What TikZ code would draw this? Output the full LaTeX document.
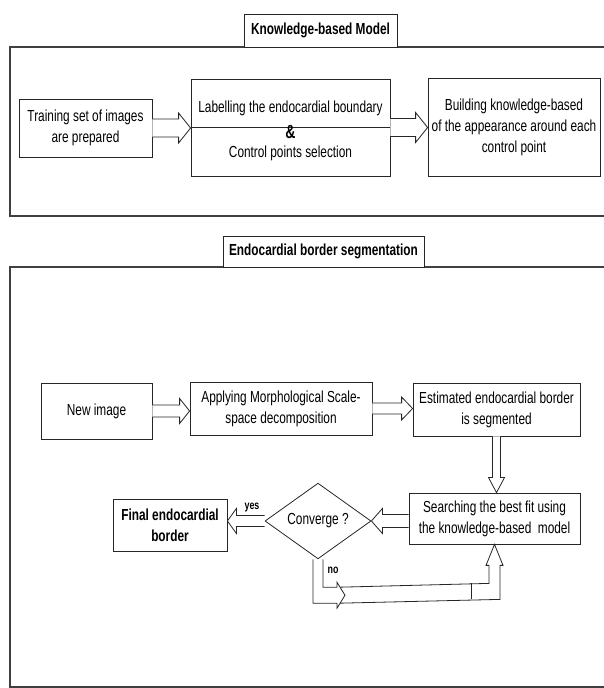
\documentclass[tikz,border=0pt]{standalone}
\usepackage{fontspec}
\setmainfont{Liberation Sans}[FakeStretch=0.74]
\usetikzlibrary{shapes.geometric,calc,positioning}

\newcommand\flowarrow[5]{%
  \draw[hollow] let \p1=(#4), \p2=(#5), \n1={veclen(\x2-\x1,\y2-\y1)}, \n2={atan2(\y2-\y1,\x2-\x1)} in
    [shift={(\p1)}, rotate=\n2] (0,#1) -- (\n1-#3,#1) -- (\n1-#3,#2) -- (\n1,0) -- (\n1-#3,-#2) -- (\n1-#3,-#1) -- (0,-#1);
}

\begin{document}
\begin{tikzpicture}[x=1pt, y=1pt,
    box/.style={draw=black!85, line width=0.8pt, fill=white, inner sep=0, align=center, font=\fontsize{16}{21}\selectfont},
    titlebox/.style={box, font=\bfseries\fontsize{16}{21}\selectfont},
    panel/.style={draw=black!75, line width=1.1pt},
    hollow/.style={draw=black!85, fill=white, line width=0.8pt},
    tag/.style={font=\bfseries\fontsize{12}{14}\selectfont, inner sep=0}]
    \useasboundingbox (0,0) rectangle (604,688);
    \clip (0,0) rectangle (604,688);

    \draw[panel] (10,641) rectangle (615,472);
    \node[titlebox, minimum width=153, minimum height=33] (kbtitle) at (320.5,657.5) {Knowledge-based Model};
    \node[box, minimum width=133, minimum height=58] (train) at (85.5,560) {Training set of images\\are prepared};
    \node[box, minimum width=199, minimum height=97] (label) at (290.5,560.5) {};
    \draw[black!85, line width=0.8pt] (label.west) -- (label.east);
    \node[font=\fontsize{16}{21}\selectfont] (label1) at ([yshift=19.5]label.center) {Labelling the endocardial boundary};
    \node[font=\bfseries\fontsize{19}{21}\selectfont, inner sep=0] (amp) at ([yshift=-5]label.center) {\&};
    \node[font=\fontsize{16}{21}\selectfont] (label2) at ([yshift=-25.5]label.center) {Control points selection};
    \node[box, minimum width=172, minimum height=98] (build) at (514,561) {Building knowledge-based\\of the appearance around each\\control point};
    \flowarrow{9}{15}{12}{train.east}{label.west |- train.east}
    \flowarrow{9}{15}{12}{label.east}{build.west |- label.east}

    \draw[panel] (10,421) rectangle (615,1);
    \node[titlebox, minimum width=201, minimum height=31] (estitle) at (323.5,436.5) {Endocardial border segmentation};
    \node[box, minimum width=111, minimum height=56] (newimg) at (96.5,277) {New image};
    \node[box, minimum width=182, minimum height=53] (apply) at (281,279.5) {Applying Morphological Scale-\\space decomposition};
    \node[box, minimum width=167, minimum height=53] (estim) at (496.5,278.5) {Estimated endocardial border\\is segmented};
    \node[box, minimum width=171, minimum height=51] (search) at (494.5,169.5) {Searching the best fit using\\the knowledge-based\ \ model};
    \node[box, diamond, minimum width=106, minimum height=69] (conv) at (318,167) {Converge ?};
    \node[titlebox, minimum width=114, minimum height=52] (final) at (170,163) {Final endocardial\\border};
    \flowarrow{6}{12.5}{10}{newimg.east}{apply.west |- newimg.east}
    \flowarrow{5.5}{11.5}{11}{apply.east}{estim.west |- apply.east}
    \flowarrow{4}{8}{15}{estim.south}{estim.south |- search.north}
    \flowarrow{6.5}{12.5}{11}{search.west |- conv.east}{conv.east}
    \flowarrow{5.5}{12.5}{9}{conv.west}{final.east |- conv.west}
    \node[tag] (yes) at (252,180) {yes};

    \draw[hollow] ($(conv.south)+(19,-28)$) -- ($(search.south)+(-5.5,-39)$) -- ++(0,18) -- ++(-3,0) -- (search.south)
        -- ++(8.5,-21) -- ++(-3,0) -- ($(search.south)+(5.5,-55)$) -- ($(conv.south)+(19,-44)$);
    \draw[black!85, line width=0.8pt] ($(search.south)+(-23.5,-39)$) -- ++(0,-16);
    \draw[hollow] ($(conv.south)+(-5,0)$) -- ++(0,-44) -- ++(24,0) -- ++(0,-5) -- ++(8,13) -- ++(-8,13) -- ++(0,-5) -- ++(-14,0) -- ++(0,28);
    \node[tag] (no) at (333,118) {no};
\end{tikzpicture}
\end{document}
